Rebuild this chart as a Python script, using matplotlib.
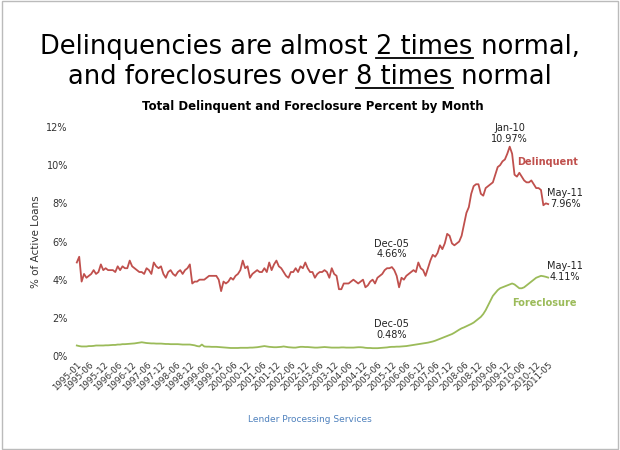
import numpy as np
import matplotlib
matplotlib.use('Agg')
import matplotlib.pyplot as plt

# monthly values, 1995-01 .. 2011-05 (% of active loans)
delinquent = [
    4.9, 5.2, 3.9, 4.3, 4.1, 4.2, 4.3, 4.5, 4.3, 4.4, 4.8, 4.5,
    4.6, 4.5, 4.5, 4.5, 4.4, 4.7, 4.5, 4.7, 4.6, 4.6, 5.0, 4.7,
    4.6, 4.5, 4.4, 4.4, 4.3, 4.6, 4.5, 4.3, 4.9, 4.7, 4.6, 4.7,
    4.3, 4.1, 4.4, 4.5, 4.3, 4.2, 4.4, 4.5, 4.3, 4.5, 4.6, 4.8,
    3.8, 3.9, 3.9, 4.0, 4.0, 4.0, 4.1, 4.2, 4.2, 4.2, 4.2, 4.0,
    3.4, 3.9, 3.8, 3.9, 4.1, 4.0, 4.2, 4.3, 4.5, 5.0, 4.6, 4.7,
    4.1, 4.3, 4.4, 4.5, 4.4, 4.4, 4.6, 4.4, 4.9, 4.5, 4.8, 5.0,
    4.7, 4.6, 4.4, 4.2, 4.1, 4.4, 4.4, 4.6, 4.4, 4.7, 4.6, 4.9,
    4.6, 4.4, 4.4, 4.1, 4.3, 4.4, 4.4, 4.5, 4.4, 4.1, 4.6, 4.3,
    4.2, 3.5, 3.5, 3.8, 3.8, 3.8, 3.9, 4.0, 3.9, 3.8, 3.9, 4.0,
    3.6, 3.7, 3.9, 4.0, 3.8, 4.1, 4.2, 4.3, 4.5, 4.6, 4.6, 4.66,
    4.5, 4.2, 3.6, 4.1, 4.0, 4.2, 4.3, 4.4, 4.5, 4.4, 4.9, 4.6,
    4.5, 4.2, 4.6, 5.0, 5.3, 5.2, 5.4, 5.8, 5.6, 5.9, 6.4, 6.3,
    5.9, 5.8, 5.9, 6.0, 6.3, 6.9, 7.5, 7.8, 8.5, 8.9, 9.0, 9.0,
    8.5, 8.4, 8.8, 8.9, 9.0, 9.1, 9.5, 9.9, 10.0, 10.2, 10.3, 10.6,
    10.97, 10.6, 9.5, 9.4, 9.6, 9.4, 9.2, 9.1, 9.1, 9.2, 9.0, 8.8,
    8.8, 8.7, 7.9, 8.0, 7.96,
]
foreclosure = [
    .55, .52, .50, .50, .50, .52, .52, .53, .55, .55, .55, .55,
    .56, .56, .57, .58, .58, .60, .60, .62, .62, .63, .64, .65,
    .66, .68, .70, .72, .70, .68, .67, .66, .66, .65, .65, .65,
    .64, .63, .63, .62, .62, .62, .62, .61, .60, .60, .60, .60,
    .58, .56, .52, .50, .60, .50, .49, .49, .48, .48, .48, .47,
    .46, .45, .44, .43, .42, .42, .42, .42, .43, .43, .43, .43,
    .44, .44, .45, .46, .48, .50, .52, .50, .48, .47, .46, .46,
    .47, .48, .50, .48, .46, .45, .44, .44, .46, .48, .48, .47,
    .47, .46, .45, .44, .44, .45, .46, .47, .46, .45, .44, .44,
    .44, .44, .45, .45, .44, .44, .44, .44, .45, .46, .46, .45,
    .43, .42, .42, .41, .41, .41, .42, .43, .44, .45, .47, .48,
    .48, .49, .49, .50, .51, .52, .54, .56, .58, .60, .62, .64,
    .66, .68, .70, .73, .76, .80, .85, .90, .95, 1.00, 1.05, 1.10,
    1.15, 1.22, 1.30, 1.38, 1.45, 1.50, 1.56, 1.62, 1.68, 1.75, 1.85, 1.95,
    2.05, 2.20, 2.40, 2.65, 2.90, 3.15, 3.30, 3.45, 3.55, 3.60, 3.65, 3.70,
    3.75, 3.80, 3.75, 3.65, 3.55, 3.55, 3.60, 3.70, 3.80, 3.90, 4.00, 4.10,
    4.15, 4.20, 4.18, 4.15, 4.11,
]
months = [f'{y}-{m:02d}' for y in range(1995, 2012) for m in range(1, 13)][:len(delinquent)]
tick_labels = ['1995-01'] + [f'{y}-{m:02d}' for y in range(1995, 2011) for m in (6, 12)] + ['2011-05']

red = '#c0504d'
green = '#9bbb59'

fig = plt.figure(figsize=(6.2, 4.5), dpi=100)
ax = fig.add_axes([72 / 620, 1 - 356 / 450, 481 / 620, 229 / 450])

x = np.arange(len(months))
ax.plot(x, delinquent, color=red, lw=1.3)
ax.plot(x, foreclosure, color=green, lw=1.3)

ax.set_xlim(-2, len(months) + 1)
ax.set_ylim(0, 12)
ax.set_yticks(range(0, 13, 2))
ax.set_yticklabels([f'{v}%' for v in range(0, 13, 2)], fontsize=7, color='#333333')
ax.set_xticks([months.index(t) for t in tick_labels])
ax.set_xticklabels(tick_labels, rotation=45, ha='right', rotation_mode='anchor', fontsize=6.3, color='#333333')
ax.tick_params(length=0, pad=3)
for s in ax.spines.values():
    s.set_visible(False)
ax.set_ylabel('% of Active Loans', fontsize=7.5, color='#333333')
ax.set_title('Total Delinquent and Foreclosure Percent by Month', fontsize=8.5, fontweight='bold', pad=12)

# annotations
ann = dict(fontsize=7, ha='center', color='#222222', linespacing=1.1)
i = months.index('2010-01')
ax.text(i, delinquent[i] + 0.15, 'Jan-10\n10.97%', va='bottom', **ann)
i = months.index('2005-12')
ax.text(i, delinquent[i] + 0.4, 'Dec-05\n4.66%', va='bottom', **ann)
ax.text(i, foreclosure[i] + 0.35, 'Dec-05\n0.48%', va='bottom', **ann)
ax.text(len(months) + 6, delinquent[-1] + 0.3, 'May-11\n7.96%', va='center', **ann)
ax.text(len(months) + 6, foreclosure[-1] + 0.3, 'May-11\n4.11%', va='center', **ann)
ax.text(183, 10.0, 'Delinquent', color=red, fontsize=7, fontweight='bold', ha='left')
ax.text(181, 2.6, 'Foreclosure', color=green, fontsize=7, fontweight='bold', ha='left')

# headline with underlined parts
fig.canvas.draw()
renderer = fig.canvas.get_renderer()

def headline(parts, ypix):
    y = 1 - ypix / 450
    texts = [fig.text(0, y, p, fontsize=18.5, va='baseline') for p, _ in parts]
    widths = [t.get_window_extent(renderer).width for t in texts]
    xpos = (620 - sum(widths)) / 2
    for t, w, (_, ul) in zip(texts, widths, parts):
        t.set_x(xpos / 620)
        if ul:
            fig.add_artist(plt.Line2D([xpos / 620, (xpos + w) / 620], [y - 4 / 450] * 2, color='black', lw=1.3))
        xpos += w

headline([('Delinquencies are almost ', False), ('2 times', True), (' normal,', False)], 54)
headline([('and foreclosures over ', False), ('8 times', True), (' normal', False)], 84)

fig.text(0.5, 1 - 419 / 450, 'Lender Processing Services', ha='center', va='center', fontsize=6.5, color='#4f81bd')
fig.add_artist(plt.Rectangle((0.003, 0.003), 0.994, 0.994, fill=False, ec='#bbbbbb', lw=1, transform=fig.transFigure))

fig.savefig('out.png', dpi=100)
